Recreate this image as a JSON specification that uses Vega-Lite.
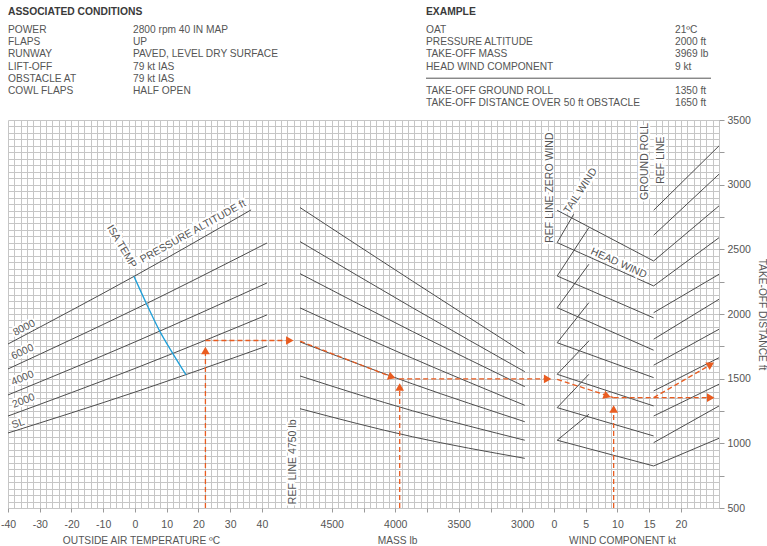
{
  "$schema": "https://vega.github.io/schema/vega-lite/v6.json",
  "padding": {"left": 0, "top": 0, "right": 0, "bottom": 0},
  "spacing": 0,
  "config": {
    "view": {"stroke": null},
    "font": "Liberation Sans",
    "axis": {
      "gridColor": "#c6c6c6", "gridOpacity": 1, "gridWidth": 1, "domain": false,
      "labelColor": "#555555", "labelFontSize": 10.5, "labelFont": "Liberation Sans",
      "titleColor": "#555555", "titleFontSize": 10.2, "titleFontWeight": "normal", "titleFont": "Liberation Sans",
      "tickColor": "#9a9a9a", "tickSize": 4, "labelFlush": false, "labelOverlap": false, "labelBound": false
    },
    "text": {"font": "Liberation Sans"}
  },
  "datasets": {
    "header": [
      {"kind": "heading", "col": 0, "row": -0.5, "text": "ASSOCIATED CONDITIONS"},
      {"kind": "item", "col": 0, "row": 1, "text": "POWER"},
      {"kind": "item", "col": 1, "row": 1, "text": "2800 rpm 40 IN MAP"},
      {"kind": "item", "col": 0, "row": 2, "text": "FLAPS"},
      {"kind": "item", "col": 1, "row": 2, "text": "UP"},
      {"kind": "item", "col": 0, "row": 3, "text": "RUNWAY"},
      {"kind": "item", "col": 1, "row": 3, "text": "PAVED, LEVEL DRY SURFACE"},
      {"kind": "item", "col": 0, "row": 4, "text": "LIFT-OFF"},
      {"kind": "item", "col": 1, "row": 4, "text": "79 kt IAS"},
      {"kind": "item", "col": 0, "row": 5, "text": "OBSTACLE AT"},
      {"kind": "item", "col": 1, "row": 5, "text": "79 kt IAS"},
      {"kind": "item", "col": 0, "row": 6, "text": "COWL FLAPS"},
      {"kind": "item", "col": 1, "row": 6, "text": "HALF OPEN"},
      {"kind": "heading", "col": 2, "row": -0.5, "text": "EXAMPLE"},
      {"kind": "item", "col": 2, "row": 1, "text": "OAT"},
      {"kind": "item", "col": 3, "row": 1, "text": "21ºC"},
      {"kind": "item", "col": 2, "row": 2, "text": "PRESSURE ALTITUDE"},
      {"kind": "item", "col": 3, "row": 2, "text": "2000 ft"},
      {"kind": "item", "col": 2, "row": 3, "text": "TAKE-OFF MASS"},
      {"kind": "item", "col": 3, "row": 3, "text": "3969 lb"},
      {"kind": "item", "col": 2, "row": 4, "text": "HEAD WIND COMPONENT"},
      {"kind": "item", "col": 3, "row": 4, "text": "9 kt"},
      {"kind": "sep", "col": 2, "col2": 4, "row": 4.95},
      {"kind": "item", "col": 2, "row": 6, "text": "TAKE-OFF GROUND ROLL"},
      {"kind": "item", "col": 3, "row": 6, "text": "1350 ft"},
      {"kind": "item", "col": 2, "row": 7, "text": "TAKE-OFF DISTANCE OVER 50 ft OBSTACLE"},
      {"kind": "item", "col": 3, "row": 7, "text": "1650 ft"}
    ],
    "p1alt": [
      {"alt": "SL", "oat": -40, "dist": 1080}, {"alt": "SL", "oat": 0, "dist": 1396}, {"alt": "SL", "oat": 41.6, "dist": 1753},
      {"alt": "2000", "oat": -40, "dist": 1211}, {"alt": "2000", "oat": 0, "dist": 1579}, {"alt": "2000", "oat": 41.6, "dist": 1993},
      {"alt": "4000", "oat": -40, "dist": 1374}, {"alt": "4000", "oat": 0, "dist": 1784}, {"alt": "4000", "oat": 41.6, "dist": 2240},
      {"alt": "6000", "oat": -40, "dist": 1575}, {"alt": "6000", "oat": 0, "dist": 2037}, {"alt": "6000", "oat": 41.6, "dist": 2549},
      {"alt": "8000", "oat": -40, "dist": 1768}, {"alt": "8000", "oat": 0, "dist": 2295}, {"alt": "8000", "oat": 36.6, "dist": 2805}
    ],
    "p1isa": [
      {"oat": -0.3, "dist": 2291}, {"oat": 3.6, "dist": 2081}, {"oat": 7.8, "dist": 1868}, {"oat": 11.9, "dist": 1696}, {"oat": 16.1, "dist": 1529}
    ],
    "p1ex": [
      {"seg": "a", "oat": 22.2, "dist": 500}, {"seg": "a", "oat": 22.2, "dist": 1718},
      {"seg": "b", "oat": 22.2, "dist": 1795}, {"seg": "b", "oat": 47.5, "dist": 1795}
    ],
    "p1arrows": [
      {"dir": "up", "oat": 22.2, "dist": 1718},
      {"dir": "right", "oat": 48.8, "dist": 1795}
    ],
    "p1labels": [
      {"label": "8000", "oat": -34.9, "dist": 1892},
      {"label": "6000", "oat": -35.4, "dist": 1706},
      {"label": "4000", "oat": -35.4, "dist": 1503},
      {"label": "2000", "oat": -35.1, "dist": 1328},
      {"label": "SL", "oat": -36.8, "dist": 1152},
      {"label": "PRESSURE ALTITUDE ft", "oat": 18.3, "dist": 2637},
      {"label": "ISA TEMP", "oat": -4.2, "dist": 2521},
      {"label": "REF LINE 4750 lb", "oat": 49.7, "dist": 857}
    ],
    "p2mass": [
      {"id": 1, "mass": 4750, "dist": 2823}, {"id": 1, "mass": 3865, "dist": 2255}, {"id": 1, "mass": 2980, "dist": 1696},
      {"id": 2, "mass": 4750, "dist": 2560}, {"id": 2, "mass": 3865, "dist": 2049}, {"id": 2, "mass": 2980, "dist": 1554},
      {"id": 3, "mass": 4750, "dist": 2312}, {"id": 3, "mass": 3865, "dist": 1865}, {"id": 3, "mass": 2980, "dist": 1438},
      {"id": 4, "mass": 4750, "dist": 2047}, {"id": 4, "mass": 3865, "dist": 1658}, {"id": 4, "mass": 2980, "dist": 1294},
      {"id": 5, "mass": 4750, "dist": 1784}, {"id": 5, "mass": 3865, "dist": 1460}, {"id": 5, "mass": 2980, "dist": 1167},
      {"id": 6, "mass": 4750, "dist": 1521}, {"id": 6, "mass": 3865, "dist": 1252}, {"id": 6, "mass": 2980, "dist": 1024},
      {"id": 7, "mass": 4750, "dist": 1268}, {"id": 7, "mass": 3865, "dist": 1051}, {"id": 7, "mass": 2980, "dist": 884}
    ],
    "p2ex": [
      {"seg": "c", "mass": 4750, "dist": 1790}, {"seg": "c", "mass": 4045, "dist": 1520},
      {"seg": "d", "mass": 3969, "dist": 1498}, {"seg": "d", "mass": 2830, "dist": 1498},
      {"seg": "e", "mass": 3965, "dist": 500}, {"seg": "e", "mass": 3965, "dist": 1436}
    ],
    "p2arrows": [
      {"dir": "downright", "mass": 4026, "dist": 1513},
      {"dir": "up", "mass": 3965, "dist": 1436},
      {"dir": "right", "mass": 2800, "dist": 1498}
    ],
    "p2labels": [
      {"label": "REF LINE ZERO WIND", "mass": 2782, "dist": 2977}
    ],
    "p3lines": [
      {"id": "h1", "wind": 0.5, "dist": 2802}, {"id": "h1", "wind": 15.7, "dist": 2410},
      {"id": "h2", "wind": 0.5, "dist": 2552}, {"id": "h2", "wind": 15.7, "dist": 2217},
      {"id": "h3", "wind": 0.5, "dist": 2294}, {"id": "h3", "wind": 15.7, "dist": 1970},
      {"id": "h4", "wind": 0.5, "dist": 2049}, {"id": "h4", "wind": 15.7, "dist": 1720},
      {"id": "h5", "wind": 0.5, "dist": 1778}, {"id": "h5", "wind": 15.7, "dist": 1508},
      {"id": "h6", "wind": 0.5, "dist": 1534}, {"id": "h6", "wind": 15.7, "dist": 1289},
      {"id": "h7", "wind": 0.5, "dist": 1276}, {"id": "h7", "wind": 15.7, "dist": 1057},
      {"id": "h8", "wind": 0.5, "dist": 1024}, {"id": "h8", "wind": 15.7, "dist": 825},
      {"id": "t2", "wind": 0.5, "dist": 2552}, {"id": "t2", "wind": 3.1, "dist": 2771},
      {"id": "t3", "wind": 0.5, "dist": 2294}, {"id": "t3", "wind": 5.5, "dist": 2668},
      {"id": "t4", "wind": 0.5, "dist": 2049}, {"id": "t4", "wind": 5.5, "dist": 2385},
      {"id": "t5", "wind": 0.5, "dist": 1778}, {"id": "t5", "wind": 5.5, "dist": 2088},
      {"id": "t6", "wind": 0.5, "dist": 1534}, {"id": "t6", "wind": 5.5, "dist": 1792},
      {"id": "t7", "wind": 0.5, "dist": 1276}, {"id": "t7", "wind": 5.5, "dist": 1534},
      {"id": "t8", "wind": 0.5, "dist": 1024}, {"id": "t8", "wind": 5.5, "dist": 1225},
      {"id": "g1", "wind": 15.7, "dist": 2802}, {"id": "g1", "wind": 26, "dist": 3300},
      {"id": "g2", "wind": 15.7, "dist": 2609}, {"id": "g2", "wind": 26, "dist": 3081},
      {"id": "g3", "wind": 15.7, "dist": 2410}, {"id": "g3", "wind": 26, "dist": 2836},
      {"id": "g4", "wind": 15.7, "dist": 2217}, {"id": "g4", "wind": 26, "dist": 2590},
      {"id": "g5", "wind": 15.7, "dist": 2010}, {"id": "g5", "wind": 26, "dist": 2307},
      {"id": "g6", "wind": 15.7, "dist": 1805}, {"id": "g6", "wind": 26, "dist": 2114},
      {"id": "g7", "wind": 15.7, "dist": 1604}, {"id": "g7", "wind": 26, "dist": 1882},
      {"id": "g8", "wind": 15.7, "dist": 1405}, {"id": "g8", "wind": 26, "dist": 1662},
      {"id": "g9", "wind": 15.7, "dist": 1211}, {"id": "g9", "wind": 26, "dist": 1457},
      {"id": "g10", "wind": 15.7, "dist": 1005}, {"id": "g10", "wind": 26, "dist": 1289},
      {"id": "g11", "wind": 15.7, "dist": 825}, {"id": "g11", "wind": 26, "dist": 1039}
    ],
    "p3ex": [
      {"seg": "f", "wind": 0.5, "dist": 1495}, {"seg": "f", "wind": 9.4, "dist": 1353},
      {"seg": "g", "wind": 9.4, "dist": 1353}, {"seg": "g", "wind": 24.1, "dist": 1353},
      {"seg": "h", "wind": 15.7, "dist": 1353}, {"seg": "h", "wind": 24.4, "dist": 1600},
      {"seg": "i", "wind": 9.4, "dist": 500}, {"seg": "i", "wind": 9.4, "dist": 1266}
    ],
    "p3arrows": [
      {"dir": "downright", "wind": 8.4, "dist": 1366},
      {"dir": "right", "wind": 24.7, "dist": 1353},
      {"dir": "upright", "wind": 24.7, "dist": 1611},
      {"dir": "up", "wind": 9.4, "dist": 1266}
    ],
    "p3labels": [
      {"label": "TAIL WIND", "wind": 4.2, "dist": 2952},
      {"label": "HEAD WIND", "wind": 10.2, "dist": 2392},
      {"label": "GROUND ROLL", "wind": 14.3, "dist": 3180},
      {"label": "REF LINE", "wind": 16.9, "dist": 3190}
    ]
  },
  "vconcat": [
    {
      "width": 711,
      "height": 115,
      "data": {"name": "header"},
      "encoding": {
        "x": {"field": "col", "type": "quantitative", "scale": {"domain": [0, 1, 2, 3, 4], "range": [0, 125, 418, 667, 703], "nice": false, "zero": false}, "axis": null},
        "y": {"field": "row", "type": "quantitative", "scale": {"domain": [-1.459, 7.967], "reverse": true, "nice": false, "zero": false}, "axis": null}
      },
      "layer": [
        {"transform": [{"filter": "datum.kind === 'heading'"}], "mark": {"type": "text", "align": "left", "baseline": "middle", "fontWeight": "bold", "fontSize": 10.3, "color": "#3a3a3a"}, "encoding": {"text": {"field": "text"}}},
        {"transform": [{"filter": "datum.kind === 'item'"}], "mark": {"type": "text", "align": "left", "baseline": "middle", "fontSize": 10.2, "color": "#555555"}, "encoding": {"text": {"field": "text"}}},
        {"transform": [{"filter": "datum.kind === 'sep'"}], "mark": {"type": "rule", "color": "#555555", "strokeWidth": 1}, "encoding": {"x2": {"field": "col2"}}}
      ]
    },
    {
      "hconcat": [
        {
          "width": 292,
          "height": 388,
          "encoding": {
            "x": {"field": "oat", "type": "quantitative", "scale": {"domain": [-40, 52], "nice": false, "zero": false},
              "axis": {"values": [-40,-38,-36,-34,-32,-30,-28,-26,-24,-22,-20,-18,-16,-14,-12,-10,-8,-6,-4,-2,0,2,4,6,8,10,12,14,16,18,20,22,24,26,28,30,32,34,36,38,40,42,44,46,48,50,52],
                "grid": true, "labelExpr": "datum.value % 10 === 0 && datum.value <= 40 ? '' + datum.value : ''",
                "tickOpacity": {"condition": {"test": "datum.value % 10 === 0 && datum.value <= 40", "value": 1}, "value": 0},
                "labelPadding": 7, "title": "OUTSIDE AIR TEMPERATURE ºC", "titleX": 133, "titlePadding": 6}},
            "y": {"field": "dist", "type": "quantitative", "scale": {"domain": [500, 3500], "nice": false, "zero": false},
              "axis": {"values": [500,550,600,650,700,750,800,850,900,950,1000,1050,1100,1150,1200,1250,1300,1350,1400,1450,1500,1550,1600,1650,1700,1750,1800,1850,1900,1950,2000,2050,2100,2150,2200,2250,2300,2350,2400,2450,2500,2550,2600,2650,2700,2750,2800,2850,2900,2950,3000,3050,3100,3150,3200,3250,3300,3350,3400,3450,3500],
                "grid": true, "labels": false, "ticks": false, "title": null}}
          },
          "layer": [
            {"data": {"name": "p1alt"}, "mark": {"type": "line", "color": "#4d4d4d", "strokeWidth": 1, "interpolate": "monotone"}, "encoding": {"detail": {"field": "alt"}}},
            {"data": {"name": "p1isa"}, "mark": {"type": "line", "color": "#1f9fd8", "strokeWidth": 1.3, "interpolate": "monotone"}, "encoding": {}},
            {"data": {"name": "p1ex"}, "mark": {"type": "line", "color": "#e95c20", "strokeWidth": 1.3, "strokeDash": [5, 3]}, "encoding": {"detail": {"field": "seg"}}},
            {"data": {"name": "p1arrows"}, "transform": [{"filter": "datum.dir === 'up'"}], "mark": {"type": "point", "shape": "triangle-up", "filled": true, "opacity": 1, "size": 75, "color": "#e95c20"}},
            {"data": {"name": "p1arrows"}, "transform": [{"filter": "datum.dir === 'right'"}], "mark": {"type": "point", "shape": "triangle-right", "filled": true, "opacity": 1, "size": 75, "color": "#e95c20"}},
            {
              "data": {"name": "p1labels"},
              "encoding": {"text": {"field": "label"}},
              "layer": [
                {"transform": [{"filter": "datum.label === '8000'"}], "mark": {"type": "text", "angle": 333, "fontSize": 10.5, "fill": "white", "stroke": "white", "strokeWidth": 4}},
                {"transform": [{"filter": "datum.label === '8000'"}], "mark": {"type": "text", "angle": 333, "fontSize": 10.5, "color": "#555555"}},
                {"transform": [{"filter": "datum.label === '6000'"}], "mark": {"type": "text", "angle": 335, "fontSize": 10.5, "fill": "white", "stroke": "white", "strokeWidth": 4}},
                {"transform": [{"filter": "datum.label === '6000'"}], "mark": {"type": "text", "angle": 335, "fontSize": 10.5, "color": "#555555"}},
                {"transform": [{"filter": "datum.label === '4000'"}], "mark": {"type": "text", "angle": 337, "fontSize": 10.5, "fill": "white", "stroke": "white", "strokeWidth": 4}},
                {"transform": [{"filter": "datum.label === '4000'"}], "mark": {"type": "text", "angle": 337, "fontSize": 10.5, "color": "#555555"}},
                {"transform": [{"filter": "datum.label === '2000'"}], "mark": {"type": "text", "angle": 339, "fontSize": 10.5, "fill": "white", "stroke": "white", "strokeWidth": 4}},
                {"transform": [{"filter": "datum.label === '2000'"}], "mark": {"type": "text", "angle": 339, "fontSize": 10.5, "color": "#555555"}},
                {"transform": [{"filter": "datum.label === 'SL'"}], "mark": {"type": "text", "angle": 341, "fontSize": 10.5, "fill": "white", "stroke": "white", "strokeWidth": 4}},
                {"transform": [{"filter": "datum.label === 'SL'"}], "mark": {"type": "text", "angle": 341, "fontSize": 10.5, "color": "#555555"}},
                {"transform": [{"filter": "datum.label === 'PRESSURE ALTITUDE ft'"}], "mark": {"type": "text", "angle": 331, "fontSize": 10.5, "fill": "white", "stroke": "white", "strokeWidth": 4}},
                {"transform": [{"filter": "datum.label === 'PRESSURE ALTITUDE ft'"}], "mark": {"type": "text", "angle": 331, "fontSize": 10.5, "color": "#555555"}},
                {"transform": [{"filter": "datum.label === 'ISA TEMP'"}], "mark": {"type": "text", "angle": 59, "fontSize": 10.5, "fill": "white", "stroke": "white", "strokeWidth": 4}},
                {"transform": [{"filter": "datum.label === 'ISA TEMP'"}], "mark": {"type": "text", "angle": 59, "fontSize": 10.5, "color": "#555555"}},
                {"transform": [{"filter": "datum.label === 'REF LINE 4750 lb'"}], "mark": {"type": "text", "angle": 270, "fontSize": 10.5, "fill": "white", "stroke": "white", "strokeWidth": 4}},
                {"transform": [{"filter": "datum.label === 'REF LINE 4750 lb'"}], "mark": {"type": "text", "angle": 270, "fontSize": 10.5, "color": "#555555"}}
              ]
            }
          ]
        },
        {
          "width": 254,
          "height": 388,
          "encoding": {
            "x": {"field": "mass", "type": "quantitative", "scale": {"domain": [2750, 4750], "reverse": true, "nice": false, "zero": false},
              "axis": {"values": [2750,2800,2850,2900,2950,3000,3050,3100,3150,3200,3250,3300,3350,3400,3450,3500,3550,3600,3650,3700,3750,3800,3850,3900,3950,4000,4050,4100,4150,4200,4250,4300,4350,4400,4450,4500,4550,4600,4650,4700,4750],
                "grid": true, "labelExpr": "datum.value % 500 === 0 && datum.value >= 3000 && datum.value <= 4500 ? '' + datum.value : ''",
                "tickOpacity": {"condition": {"test": "datum.value % 250 === 0 && datum.value >= 3000 && datum.value <= 4500", "value": 1}, "value": 0},
                "labelPadding": 7, "title": "MASS lb", "titleX": 97, "titlePadding": 6}},
            "y": {"field": "dist", "type": "quantitative", "scale": {"domain": [500, 3500], "nice": false, "zero": false},
              "axis": {"values": [500,550,600,650,700,750,800,850,900,950,1000,1050,1100,1150,1200,1250,1300,1350,1400,1450,1500,1550,1600,1650,1700,1750,1800,1850,1900,1950,2000,2050,2100,2150,2200,2250,2300,2350,2400,2450,2500,2550,2600,2650,2700,2750,2800,2850,2900,2950,3000,3050,3100,3150,3200,3250,3300,3350,3400,3450,3500],
                "grid": true, "labels": false, "ticks": false, "title": null}}
          },
          "layer": [
            {"data": {"name": "p2mass"}, "mark": {"type": "line", "color": "#4d4d4d", "strokeWidth": 1, "interpolate": "monotone"}, "encoding": {"detail": {"field": "id"}}},
            {"data": {"name": "p2ex"}, "mark": {"type": "line", "color": "#e95c20", "strokeWidth": 1.3, "strokeDash": [5, 3]}, "encoding": {"detail": {"field": "seg"}}},
            {"data": {"name": "p2arrows"}, "transform": [{"filter": "datum.dir === 'up'"}], "mark": {"type": "point", "shape": "triangle-up", "filled": true, "opacity": 1, "size": 75, "color": "#e95c20"}},
            {"data": {"name": "p2arrows"}, "transform": [{"filter": "datum.dir === 'right'"}], "mark": {"type": "point", "shape": "triangle-right", "filled": true, "opacity": 1, "size": 75, "color": "#e95c20"}},
            {"data": {"name": "p2arrows"}, "transform": [{"filter": "datum.dir === 'downright'"}], "mark": {"type": "point", "shape": "triangle-right", "angle": 20, "filled": true, "opacity": 1, "size": 75, "color": "#e95c20"}},
            {"data": {"name": "p2labels"}, "encoding": {"text": {"field": "label"}},
              "layer": [
                {"mark": {"type": "text", "angle": 270, "fontSize": 10.5, "fill": "white", "stroke": "white", "strokeWidth": 4}},
                {"mark": {"type": "text", "angle": 270, "fontSize": 10.5, "color": "#555555"}}
              ]}
          ]
        },
        {
          "width": 165,
          "height": 388,
          "encoding": {
            "x": {"field": "wind", "type": "quantitative", "scale": {"domain": [0, 26], "nice": false, "zero": false},
              "axis": {"values": [0,1,2,3,4,5,6,7,8,9,10,11,12,13,14,15,16,17,18,19,20,21,22,23,24,25,26],
                "grid": true, "labelExpr": "datum.value % 5 === 0 && datum.value <= 20 ? '' + datum.value : ''",
                "tickOpacity": {"condition": {"test": "datum.value % 5 === 0 && datum.value <= 20", "value": 1}, "value": 0},
                "labelPadding": 7, "title": "WIND COMPONENT kt", "titleX": 68, "titlePadding": 6}},
            "y": {"field": "dist", "type": "quantitative", "scale": {"domain": [500, 3500], "nice": false, "zero": false},
              "axis": {"orient": "right", "values": [500,550,600,650,700,750,800,850,900,950,1000,1050,1100,1150,1200,1250,1300,1350,1400,1450,1500,1550,1600,1650,1700,1750,1800,1850,1900,1950,2000,2050,2100,2150,2200,2250,2300,2350,2400,2450,2500,2550,2600,2650,2700,2750,2800,2850,2900,2950,3000,3050,3100,3150,3200,3250,3300,3350,3400,3450,3500],
                "grid": true, "labelExpr": "datum.value % 500 === 0 ? '' + datum.value : ''",
                "tickOpacity": {"condition": {"test": "datum.value % 250 === 0", "value": 1}, "value": 0},
                "tickSize": 5, "labelPadding": 3, "title": "TAKE-OFF DISTANCE ft", "titlePadding": 6}}
          },
          "layer": [
            {"data": {"name": "p3lines"}, "mark": {"type": "line", "color": "#4d4d4d", "strokeWidth": 1}, "encoding": {"detail": {"field": "id"}}},
            {"data": {"name": "p3ex"}, "mark": {"type": "line", "color": "#e95c20", "strokeWidth": 1.3, "strokeDash": [5, 3]}, "encoding": {"detail": {"field": "seg"}}},
            {"data": {"name": "p3arrows"}, "transform": [{"filter": "datum.dir === 'up'"}], "mark": {"type": "point", "shape": "triangle-up", "filled": true, "opacity": 1, "size": 75, "color": "#e95c20"}},
            {"data": {"name": "p3arrows"}, "transform": [{"filter": "datum.dir === 'right'"}], "mark": {"type": "point", "shape": "triangle-right", "filled": true, "opacity": 1, "size": 75, "color": "#e95c20"}},
            {"data": {"name": "p3arrows"}, "transform": [{"filter": "datum.dir === 'downright'"}], "mark": {"type": "point", "shape": "triangle-right", "angle": 20, "filled": true, "opacity": 1, "size": 75, "color": "#e95c20"}},
            {"data": {"name": "p3arrows"}, "transform": [{"filter": "datum.dir === 'upright'"}], "mark": {"type": "point", "shape": "triangle-right", "angle": 330, "filled": true, "opacity": 1, "size": 75, "color": "#e95c20"}},
            {"data": {"name": "p3labels"}, "encoding": {"text": {"field": "label"}},
              "layer": [
                {"transform": [{"filter": "datum.label === 'TAIL WIND'"}], "mark": {"type": "text", "angle": 303, "fontSize": 10.5, "fill": "white", "stroke": "white", "strokeWidth": 4}},
                {"transform": [{"filter": "datum.label === 'TAIL WIND'"}], "mark": {"type": "text", "angle": 303, "fontSize": 10.5, "color": "#555555"}},
                {"transform": [{"filter": "datum.label === 'HEAD WIND'"}], "mark": {"type": "text", "angle": 24, "fontSize": 10.5, "fill": "white", "stroke": "white", "strokeWidth": 4}},
                {"transform": [{"filter": "datum.label === 'HEAD WIND'"}], "mark": {"type": "text", "angle": 24, "fontSize": 10.5, "color": "#555555"}},
                {"transform": [{"filter": "datum.label === 'GROUND ROLL' || datum.label === 'REF LINE'"}], "mark": {"type": "text", "angle": 270, "fontSize": 10.5, "fill": "white", "stroke": "white", "strokeWidth": 4}},
                {"transform": [{"filter": "datum.label === 'GROUND ROLL' || datum.label === 'REF LINE'"}], "mark": {"type": "text", "angle": 270, "fontSize": 10.5, "color": "#555555"}}
              ]}
          ]
        }
      ],
      "spacing": 0,
      "bounds": "flush",
      "resolve": {"scale": {"x": "independent", "y": "independent"}}
    }
  ]
}
